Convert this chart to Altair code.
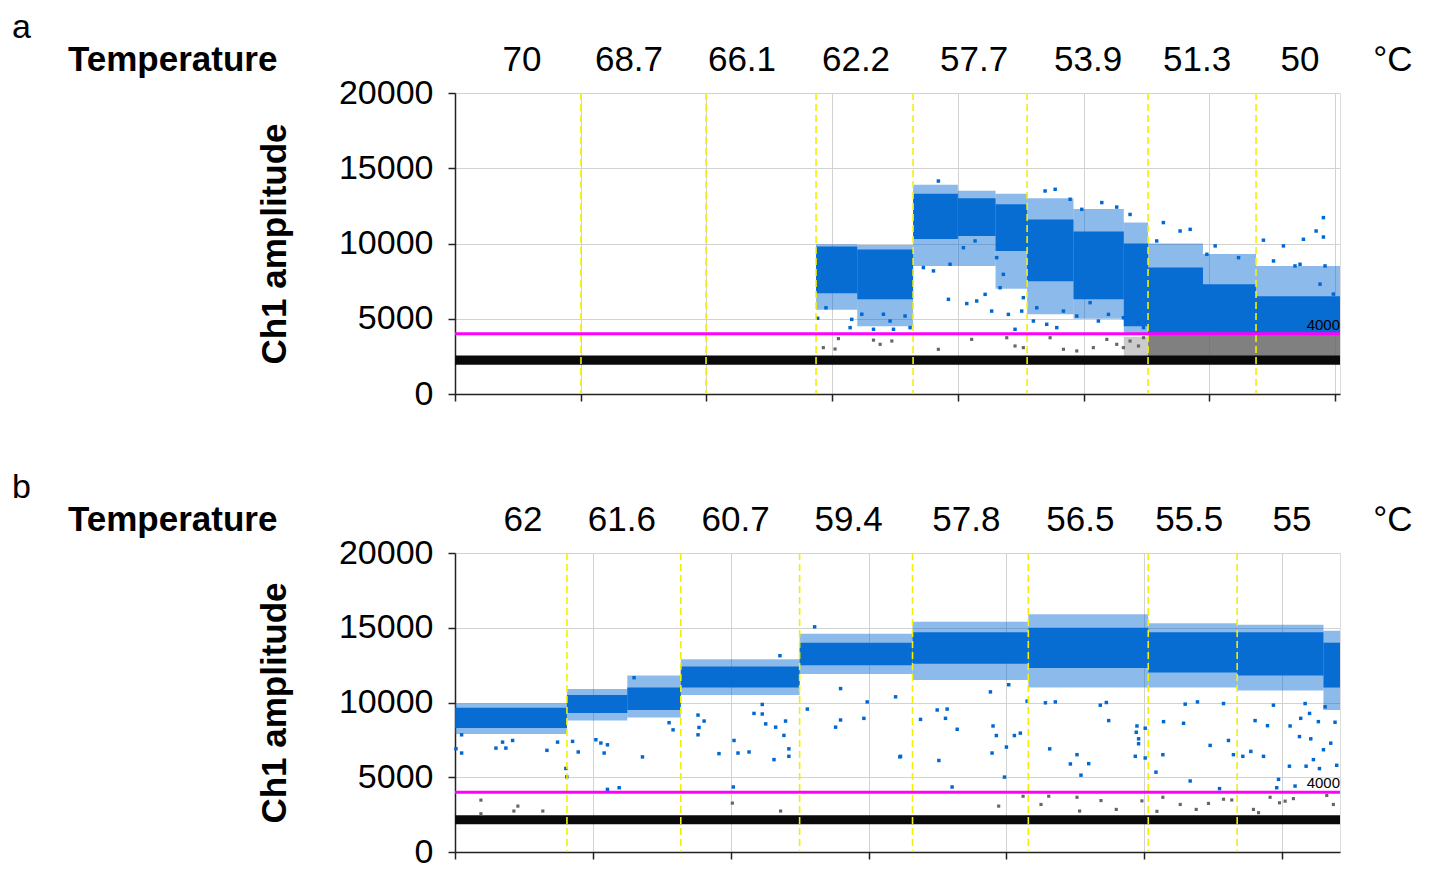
import altair as alt
import pandas as pd

FONT = "Liberation Sans"
BLUE = "#0068d2"

# ---------------- Panel a ----------------
a_xmax = 7040
a_bounds = [1002, 1997, 2872, 3644, 4551, 5513, 6372]
a_temps = ["70", "68.7", "66.1", "62.2", "57.7", "53.9", "51.3", "50"]
a_temp_pos = [533, 1384, 2283, 3190, 4129, 5036, 5903, 6722]

a_seg_start = [2872, 3200, 3644, 4000, 4300, 4551, 4920, 5320, 5513, 5950, 6372]
a_seg_end = [3200, 3644, 4000, 4300, 4551, 4920, 5320, 5513, 5950, 6372, 7040]
a_core_lo = [6700, 6300, 10300, 10500, 9500, 7500, 6300, 4500, 4000, 4000, 4000]
a_core_hi = [9800, 9600, 13300, 13000, 12600, 11600, 10800, 10000, 8400, 7300, 6500]
a_fringe_lo = [5600, 4500, 8500, 8500, 7000, 5300, 5000, 4000, 4000, 4000, 4000]
a_fringe_hi = [9950, 9900, 13900, 13500, 13300, 13000, 12300, 11400, 10000, 9300, 8500]

a_grey_seg_start = [5320, 5513]
a_grey_seg_end = [5513, 7040]
a_grey_lo = [2500, 2500]
a_grey_hi = [3800, 4000]
a_grey_op = [0.35, 0.85]

a_neg_lo, a_neg_hi = 1950, 2550

a_out_x = [2885, 2951, 3156, 3143, 3236, 3329, 3408, 3461, 3488, 3620, 3580,
           3845, 3726, 3806, 3925, 3938, 4071, 4150, 4217, 4269, 4336, 4362, 4402, 4455, 4508, 4521, 4309, 4137, 4044,
           4694, 4774, 4893, 4986, 5145, 5264, 5370, 4707, 4840, 4946, 5052, 5118, 5198, 5317, 5437, 5477, 4787, 4601, 4628,
           5635, 5768, 5848, 6047, 6233, 5981, 5582,
           6908, 6850, 6908, 6749, 6431, 6590, 6722, 6921, 6881, 6987, 6511, 6682]
a_out_y = [5030, 5730, 4960, 4410, 5300, 4300, 5300, 4850, 4300, 4410, 5180,
           14150, 8400, 8180, 6290, 8620, 6010, 6180, 6620, 5510, 7060, 7950, 5290, 4300, 5510, 6400, 9060, 10170, 9720,
           13490, 13600, 12940, 12270, 12720, 12420, 11930, 4630, 5510, 5180, 6070, 4850, 5290, 5070, 4740, 4410, 4410, 4850, 5730,
           11390, 10830, 10940, 9840, 9060, 9280, 10170,
           11720, 10830, 10430, 10280, 10220, 9840, 8620, 8510, 7300, 6640, 8840, 8510]

a_grey_x = [2930, 3050, 3023, 3329, 3382, 3475, 4110, 3845, 4389, 4455, 4521, 4734, 4840, 4946,
            5078, 5185, 5264, 5317, 5370, 5437, 5477]
a_grey_y = [3080, 3680, 2990, 3580, 3300, 3520, 3630, 2970, 3740, 3190, 3080, 3740, 2970, 2860,
            3080, 3630, 3300, 3080, 3520, 3190, 3740]

# ---------------- Panel b ----------------
b_xmax = 6420
b_bounds = [812, 1638, 2500, 3319, 4159, 5029, 5674]
b_temps = ["62", "61.6", "60.7", "59.4", "57.8", "56.5", "55.5", "55"]
b_temp_pos = [493, 1210, 2036, 2855, 3710, 4536, 5326, 6072]

b_seg_start = [0, 812, 1250, 1638, 2500, 3319, 4159, 5029, 5674, 6300]
b_seg_end = [812, 1250, 1638, 2500, 3319, 4159, 5029, 5674, 6300, 6420]
b_core_lo = [8300, 9300, 9500, 11000, 12500, 12600, 12300, 12000, 11800, 11000]
b_core_hi = [9650, 10500, 11000, 12400, 14000, 14700, 15000, 14700, 14700, 14000]
b_fringe_lo = [7900, 8800, 9000, 10500, 11900, 11500, 11000, 11000, 10800, 9500]
b_fringe_hi = [9950, 10900, 11800, 12900, 14600, 15400, 15900, 15300, 15200, 14800]

b_neg_lo, b_neg_hi = 1850, 2450

b_out_x = [7, 48, 48, 297, 345, 369, 418, 667, 744, 804, 811,
           853, 894, 1022, 1058, 1082, 1106, 1106, 1191, 1360, 1299, 1553, 1582,
           1763, 1807, 1763, 1770, 1915, 2024, 2053, 2019, 2133, 2169, 2229, 2229, 2254, 2314, 2326, 2386, 2398, 2422, 2422, 2357,
           2556, 2761, 2797, 2966, 2990, 3227, 2609, 2797, 3196, 3232,
           3377, 3510, 3498, 3558, 3570, 3643, 3606, 3884, 3903, 3927, 3896, 3986, 4000, 4058, 4101, 4017, 4150,
           4283, 4355, 4314, 4464, 4512, 4597, 4541, 4681, 4725, 4742, 4947, 4942, 4959, 4959, 4935, 5007, 5007,
           5085, 5135, 5140, 5285, 5297, 5386, 5333, 5478, 5546, 5575, 5611, 5647,
           5715, 5773, 5804, 5865, 5894, 5937, 5961, 6053, 6058, 6126, 6135, 6167, 6174, 6199, 6208, 6227, 6263,
           6271, 6300, 6312, 6353, 6384, 6396, 6094, 5974]
b_out_y = [6910, 6620, 7840, 6950, 7350, 6950, 7460, 6800, 7350, 5590, 5030,
           7400, 6690, 7510, 7290, 6620, 7170, 4190, 4300, 6360, 11660, 8650, 8170,
           9160, 8760, 7840, 8330, 6580, 7460, 6620, 4350, 6690, 9270, 9230, 9870, 8570, 6180, 8350, 7800, 8760, 6900, 6400, 13130,
           9560, 8350, 8830, 8940, 10040, 6360, 15060, 10930, 10380, 6400,
           8870, 6120, 9500, 8940, 9560, 8210, 4350, 10710, 8430, 7790, 6620, 5010, 7020, 7790, 7950, 11190, 10090,
           9980, 10040, 6900, 5890, 6510, 5910, 5140, 9820, 10000, 8790, 8430, 8010, 7570, 7240, 6400, 8280, 6290,
           5340, 6510, 8720, 8610, 9890, 10040, 4750, 7130, 4240, 9930, 7460, 6510,
           6400, 6730, 8790, 6400, 8450, 9820, 4300, 5740, 8430, 7720, 8940, 9930, 5740, 9270, 7570, 6180, 8720,
           5580, 6840, 9710, 7280, 8680, 5800, 4410, 4860]

b_grey_x = [188, 188, 427, 456, 637, 2012, 2362, 3944, 4121, 4251, 4307, 4512, 4531, 4686, 4797, 4983,
            5092, 5135, 5261, 5377, 5466, 5575, 5635, 5792, 5829, 5913, 5981, 6022, 6082, 6324, 6372]
b_grey_y = [3470, 2560, 2740, 3070, 2740, 3270, 2740, 3070, 3730, 3180, 3730, 3660, 2740, 3440, 2850, 3420,
            2720, 3660, 3180, 2850, 3250, 3530, 3480, 2850, 2630, 3660, 3290, 3400, 3570, 3780, 3180]

THRESHOLD = 4000


def panel(letter, xmax, bounds, temps, temp_pos, seg_s, seg_e, core_lo, core_hi,
          fr_lo, fr_hi, neg_lo, neg_hi, out_x, out_y, grey_x, grey_y,
          grey_bands=None, height=301):
    xs = alt.Scale(domain=[0, xmax], nice=False, zero=False)
    ys = alt.Scale(domain=[0, 20000], nice=False)
    xaxis = alt.Axis(values=list(range(0, xmax + 1, 1000)), labels=False, title=None,
                     tickSize=7, tickColor="#222", domainColor="#222", domainWidth=1.5,
                     grid=True, gridColor="#d2d2d2", tickWidth=1.5)
    yaxis = alt.Axis(values=[0, 5000, 10000, 15000, 20000], format="d",
                     labelFontSize=34, labelFont=FONT,
                     labelColor="black", tickSize=7, tickColor="#222", tickWidth=1.5,
                     domainColor="#222", domainWidth=1.5, labelPadding=15,
                     title="Ch1 amplitude", titleFont=FONT, titleFontSize=35,
                     titleFontWeight="bold", titleColor="black", titlePadding=46,
                     grid=True, gridColor="#d2d2d2")

    def X(f):
        return alt.X(f, type="quantitative", scale=xs, axis=xaxis)

    def Y(f):
        return alt.Y(f, type="quantitative", scale=ys, axis=yaxis)

    segs = pd.DataFrame({"x0": seg_s, "x1": seg_e, "clo": core_lo, "chi": core_hi,
                         "flo": fr_lo, "fhi": fr_hi})
    neg = pd.DataFrame({"x0": [0], "x1": [xmax], "lo": [neg_lo], "hi": [neg_hi]})
    outs = pd.DataFrame({"x": out_x, "y": out_y})
    greys = pd.DataFrame({"x": grey_x, "y": grey_y})
    bnd = pd.DataFrame({"b": bounds})
    tl = pd.DataFrame({"pos": temp_pos, "t": temps})

    layers = []
    layers.append(alt.Chart(segs).mark_rect(color=BLUE, opacity=0.45).encode(
        x=X("x0"), x2="x1", y=Y("flo"), y2="fhi"))
    layers.append(alt.Chart(segs).mark_rect(color=BLUE, opacity=0.95).encode(
        x=X("x0"), x2="x1", y=Y("clo"), y2="chi"))
    if grey_bands is not None:
        layers.append(alt.Chart(pd.DataFrame(grey_bands)).mark_rect(color="#6a6a6a").encode(
            x=X("x0"), x2="x1", y=Y("lo"), y2="hi",
            opacity=alt.Opacity("op:Q", scale=None, legend=None)))
    layers.append(alt.Chart(neg).mark_rect(color="#0a0a0a").encode(
        x=X("x0"), x2="x1", y=Y("lo"), y2="hi"))
    layers.append(alt.Chart(greys).mark_square(color="#666666", size=10, opacity=1).encode(
        x=X("x"), y=Y("y")))
    layers.append(alt.Chart(outs).mark_square(color=BLUE, size=12, opacity=1).encode(
        x=X("x"), y=Y("y")))
    layers.append(alt.Chart(bnd).mark_rule(color="#f5f000", strokeWidth=1.6, strokeDash=[7, 4]).encode(
        x=X("b")))
    layers.append(alt.Chart(pd.DataFrame({"v": [THRESHOLD]})).mark_rule(color="#ff00ff", strokeWidth=3).encode(
        y=Y("v")))
    layers.append(alt.Chart(pd.DataFrame({"v": [THRESHOLD], "t": [str(THRESHOLD)]})).mark_text(
        font=FONT, fontSize=15, align="right", baseline="bottom", color="black", dy=-1).encode(
        x=alt.value(885), y=Y("v"), text="t:N"))
    layers.append(alt.Chart(tl).mark_text(font=FONT, fontSize=35, align="center",
                                          baseline="middle", color="black").encode(
        x=X("pos"), y=alt.value(-33), text="t:N"))
    layers.append(alt.Chart(pd.DataFrame({"t": ["Temperature"]})).mark_text(
        font=FONT, fontSize=35, fontWeight="bold", align="left", baseline="middle", color="black").encode(
        x=alt.value(-387), y=alt.value(-33), text="t:N"))
    layers.append(alt.Chart(pd.DataFrame({"t": ["°C"]})).mark_text(
        font=FONT, fontSize=35, align="center", baseline="middle", color="black").encode(
        x=alt.value(938), y=alt.value(-33), text="t:N"))
    layers.append(alt.Chart(pd.DataFrame({"t": [letter]})).mark_text(
        font=FONT, fontSize=34, align="left", baseline="middle", color="black").encode(
        x=alt.value(-443), y=alt.value(-65), text="t:N"))
    return alt.layer(*layers).properties(width=885, height=height)


pa = panel("a", a_xmax, a_bounds, a_temps, a_temp_pos, a_seg_start, a_seg_end,
           a_core_lo, a_core_hi, a_fringe_lo, a_fringe_hi, a_neg_lo, a_neg_hi,
           a_out_x, a_out_y, a_grey_x, a_grey_y,
           grey_bands={"x0": a_grey_seg_start, "x1": a_grey_seg_end,
                       "lo": a_grey_lo, "hi": a_grey_hi, "op": a_grey_op},
           height=301)
pb = panel("b", b_xmax, b_bounds, b_temps, b_temp_pos, b_seg_start, b_seg_end,
           b_core_lo, b_core_hi, b_fringe_lo, b_fringe_hi, b_neg_lo, b_neg_hi,
           b_out_x, b_out_y, b_grey_x, b_grey_y, grey_bands=None, height=299)

chart = alt.vconcat(pa, pb, spacing=58).properties(
    padding={"top": 2, "left": 3, "right": 5, "bottom": 0}
).configure_view(
    fill="#f4f4f4", stroke="#222222", strokeWidth=1.5
).configure(background="white")

chart.save("out.html", embed_options={"renderer": "svg", "actions": False})
